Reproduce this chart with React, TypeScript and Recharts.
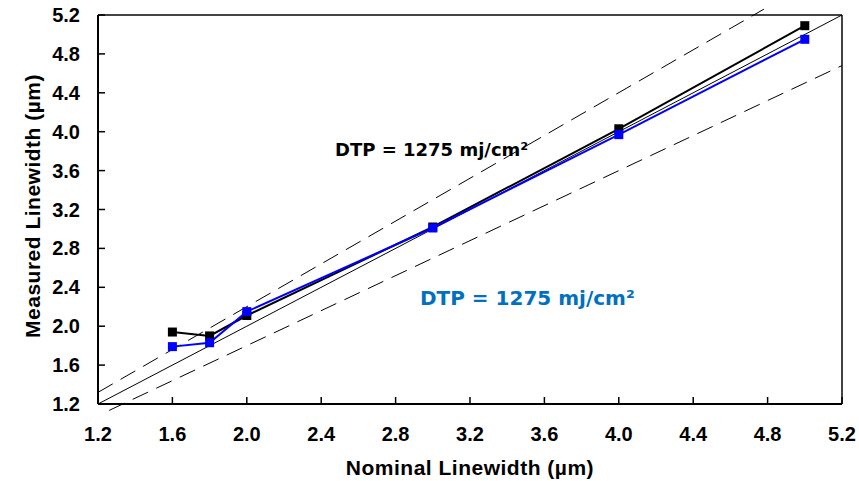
import React from 'react';
import { LineChart, Line, XAxis, YAxis, ReferenceLine } from 'recharts';

const nominal = [1.6, 1.8, 2.0, 3.0, 4.0, 5.0];
const measuredBlack = [1.94, 1.9, 2.11, 3.02, 4.03, 5.09];
const measuredBlue = [1.79, 1.83, 2.15, 3.01, 3.97, 4.95];
const axisTicks = [1.2, 1.6, 2.0, 2.4, 2.8, 3.2, 3.6, 4.0, 4.4, 4.8, 5.2];
const annotation = 'DTP = 1275 mj/cm\u00B2';

// guide lines: y = x, y = 1.1x, y = 0.9x
const unityLine = [{ x: 1.2, y: 1.2 }, { x: 5.2, y: 5.2 }];
const upperLine = [{ x: 1.2, y: 1.32 }, { x: 4.78, y: 5.26 }];
const lowerLine = [{ x: 1.26, y: 1.134 }, { x: 5.2, y: 4.68 }];

const blackData = nominal.map((x, i) => ({ x, y: measuredBlack[i] }));
const blueData = nominal.map((x, i) => ({ x, y: measuredBlue[i] }));

const tickFont = { fontFamily: '"Liberation Sans", Arial, sans-serif', fontWeight: 700, fontSize: 20 };

const XTick = (props: any) => {
  const { x, y, payload } = props;
  return (
    <g>
      <line x1={x} x2={x} y1={y} y2={y - 7} stroke="#000" strokeWidth={1.5} />
      <text x={x} y={y + 37} textAnchor="middle" fill="#000" style={tickFont}>
        {Number(payload.value).toFixed(1)}
      </text>
    </g>
  );
};

const YTick = (props: any) => {
  const { x, y, payload } = props;
  return (
    <g>
      <line x1={x} x2={x + 7} y1={y} y2={y} stroke="#000" strokeWidth={1.5} />
      <text x={x - 18} y={y + 7} textAnchor="end" fill="#000" style={tickFont}>
        {Number(payload.value).toFixed(1)}
      </text>
    </g>
  );
};

const squareDot = (color: string) => (props: any) => {
  const { cx, cy, index } = props;
  return <rect key={index} x={cx - 4.5} y={cy - 4.5} width={9} height={9} fill={color} />;
};

const titleStyle = {
  fontFamily: '"Liberation Sans", Arial, sans-serif',
  fontWeight: 700,
  fontSize: 21,
  letterSpacing: 0.5,
};

const XTitle = (props: any) => {
  const { viewBox } = props;
  return (
    <text x={viewBox.x + viewBox.width / 2} y={475} textAnchor="middle" fill="#000" style={titleStyle}>
      Nominal Linewidth (µm)
    </text>
  );
};

const YTitle = () => (
  <text x={40} y={206} textAnchor="middle" fill="#000" style={titleStyle} transform="rotate(-90 40 206)">
    Measured Linewidth (µm)
  </text>
);

export default function App() {
  return (
    <div style={{ position: 'absolute', left: 0, top: 0, width: 859, height: 481, background: '#fff' }}>
      <LineChart width={859} height={481} margin={{ top: 15, right: 17, bottom: 0, left: 0 }}>
        <XAxis
          type="number"
          dataKey="x"
          domain={[1.2, 5.2]}
          ticks={axisTicks}
          allowDataOverflow
          height={77}
          tickSize={0}
          tickMargin={0}
          tickLine={false}
          tick={<XTick />}
          axisLine={{ stroke: '#000', strokeWidth: 2 }}
          label={<XTitle />}
        />
        <YAxis
          type="number"
          dataKey="y"
          domain={[1.2, 5.2]}
          ticks={axisTicks}
          allowDataOverflow
          width={98}
          tickSize={0}
          tickMargin={0}
          tickLine={false}
          tick={<YTick />}
          axisLine={{ stroke: '#000', strokeWidth: 2 }}
          label={<YTitle />}
        />
        <ReferenceLine y={5.2} stroke="#444" strokeWidth={2} />
        <ReferenceLine x={5.2} stroke="#444" strokeWidth={2} />
        <ReferenceLine segment={upperLine} stroke="#000" strokeWidth={1} strokeDasharray="17 9" ifOverflow="visible" />
        <ReferenceLine segment={lowerLine} stroke="#000" strokeWidth={1} strokeDasharray="17 9" ifOverflow="visible" />
        <ReferenceLine segment={unityLine} stroke="#000" strokeWidth={1} />
        <Line
          data={blackData}
          dataKey="y"
          stroke="#000"
          strokeWidth={2}
          dot={squareDot('#000')}
          activeDot={false}
          isAnimationActive={false}
        />
        <Line
          data={blueData}
          dataKey="y"
          stroke="#0000ff"
          strokeWidth={2}
          dot={squareDot('#0000ff')}
          activeDot={false}
          isAnimationActive={false}
        />
      </LineChart>
      <svg width={859} height={481} style={{ position: 'absolute', left: 0, top: 0, pointerEvents: 'none' }}>
        <text x={335} y={156} fill="#000" style={{ fontFamily: '"DejaVu Sans", Verdana, sans-serif', fontWeight: 700, fontSize: 18 }}>
          {annotation}
        </text>
        <text x={420} y={305} fill="#0070c0" style={{ fontFamily: '"DejaVu Sans", Verdana, sans-serif', fontWeight: 700, fontSize: 20 }}>
          {annotation}
        </text>
      </svg>
    </div>
  );
}
